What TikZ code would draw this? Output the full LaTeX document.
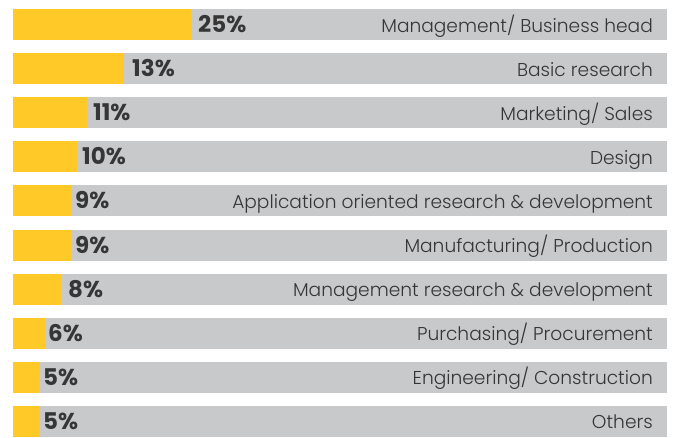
\documentclass[tikz,border=0pt]{standalone}
\usepackage{fontspec}
\setmainfont{Poppins}
\newfontfamily\lightfont{Poppins Light}
\usetikzlibrary{positioning}
\definecolor{barYellow}{HTML}{FFCA28}
\definecolor{barGrey}{HTML}{C8C9CB}
\definecolor{txtDark}{HTML}{363636}

\begin{document}
\begin{tikzpicture}[x=1pt,y=-1pt]
      \tikzstyle{pct}=[anchor=base west,inner sep=0pt,text=txtDark,font=\bfseries\fontsize{23}{23}\selectfont]
      \tikzstyle{lbl}=[anchor=base east,inner sep=0pt,text=txtDark,font=\lightfont\fontsize{18.6}{18.6}\selectfont]
      \useasboundingbox (0,0) rectangle (674,437);
      % one row per answer: row / end of yellow / start of percent / percent / label
      \foreach \r/\w/\p/\v/\t in {0/191/198/25/{Management/ Business head},
          1/124/132/13/{Basic research},
          2/87/93/11/{Marketing/ Sales},
          3/77/82/10/{Design},
          4/71/75/9/{Application oriented research \& development},
          5/71/75/9/{Manufacturing/ Production},
          6/61/68/8/{Management research \& development},
          7/45/48/6/{Purchasing/ Procurement},
          8/40/43/5/{Engineering/ Construction},
          9/40/43/5/{Others}}{
        \pgfmathsetmacro{\rowtop}{9+44.1*\r}
        \fill[barGrey] (13,\rowtop) rectangle (667,\rowtop+31);
        \fill[barYellow] (13,\rowtop) rectangle (\w,\rowtop+31);
        \node[pct] (pct\r) at (\p,\rowtop+23.5) {\v\%};
        \node[lbl] (lbl\r) at (653,\rowtop+23) {\t};
      }
    \end{tikzpicture}
\end{document}
